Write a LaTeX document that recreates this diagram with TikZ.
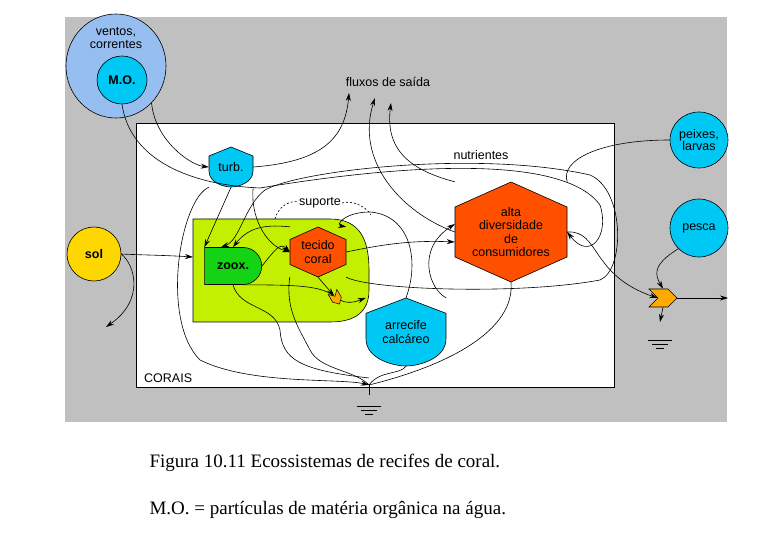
\documentclass[tikz,border=0pt]{standalone}
\usepackage{fontspec}
\setmainfont{Liberation Serif}
\setsansfont{Liberation Sans}
\usepackage{tikz}
\usetikzlibrary{shapes,arrows.meta,positioning,calc}

\definecolor{bgray}{RGB}{192,192,192}
\definecolor{cyanf}{RGB}{0,200,245}
\definecolor{ventof}{RGB}{150,190,240}
\definecolor{solf}{RGB}{255,215,0}
\definecolor{limef}{RGB}{195,240,0}
\definecolor{zooxf}{RGB}{20,210,20}
\definecolor{hexred}{RGB}{255,80,0}
\definecolor{gatef}{RGB}{255,170,0}

% hexagon: cx, cy, half width, half height
\newcommand{\hexa}[4]{\path[fill=hexred,draw=black,line width=0.6pt]
 ({#1-#3},{#2-#4/2}) -- (#1,{#2-#4}) -- ({#1+#3},{#2-#4/2}) -- ({#1+#3},{#2+#4/2})
 -- (#1,{#2+#4}) -- ({#1-#3},{#2+#4/2}) -- cycle;}
% shield (storage): cx, cy, half width, half height
\newcommand{\shld}[4]{\path[fill=cyanf,draw=black,line width=0.6pt]
 (#1,{#2-#4}) -- ({#1+#3},{#2-0.55*#4}) -- ({#1+#3},{#2+0.2*#4})
 .. controls ({#1+#3},{#2+0.8*#4}) and ({#1+0.3*#3},{#2+#4}) .. (#1,{#2+#4})
 .. controls ({#1-0.3*#3},{#2+#4}) and ({#1-#3},{#2+0.8*#4}) .. ({#1-#3},{#2+0.2*#4})
 -- ({#1-#3},{#2-0.55*#4}) -- cycle;}
% heat sink
\newcommand{\grnd}[2]{\draw[line width=0.6pt] ({#1-12},#2) -- ({#1+12},#2)
 ({#1-8},{#2+4}) -- ({#1+8},{#2+4}) ({#1-4},{#2+8}) -- ({#1+4},{#2+8});}

\tikzset{
  lbl/.style={font=\sffamily\fontsize{12.5}{14.5}\selectfont, align=center, inner sep=0pt},
  flow/.style={line width=0.6pt, -{Stealth[length=8pt,width=5pt]}},
  line/.style={line width=0.6pt},
  src/.style={ellipse, draw=black, line width=0.6pt, inner sep=0pt}
}

\begin{document}
\begin{tikzpicture}[x=1pt,y=-1pt]
\useasboundingbox (0,0) rectangle (780,540);
\fill[bgray] (65,17) rectangle (727,422);
\draw[fill=white,line width=0.6pt] (136,123) rectangle (614,387);
\node[lbl,anchor=west] (corais) at (144,378) {CORAIS};

% green region
\path[fill=limef,draw=black,line width=0.6pt] (193,219) -- (330,219)
  .. controls (360,219) and (369,240) .. (369,270) -- (369,290)
  .. controls (369,312) and (355,322) .. (330,322) -- (193,322) -- cycle;

% sources
\node[src,fill=ventof,minimum width=100,minimum height=104] (ventos) at (116,66) {};
\node[lbl] at (116,38) {ventos,\\[-2pt]correntes};
\node[src,fill=cyanf,minimum width=50,minimum height=48,lbl,font=\sffamily\bfseries\fontsize{12.5}{14}\selectfont] (mo) at (122,80) {M.O.};
\node[src,fill=solf,minimum width=54,minimum height=54,lbl,font=\sffamily\bfseries\fontsize{12.5}{14}\selectfont] (sol) at (94,254) {sol};
\node[src,fill=cyanf,minimum width=58,minimum height=56,lbl] (peixes) at (699,140) {peixes,\\[-2pt]larvas};
\node[src,fill=cyanf,minimum width=58,minimum height=58,lbl] (pesca) at (699,228) {pesca};

% storages
\shld{231}{167}{22}{20}
\node[lbl,minimum width=44,minimum height=40] (turb) at (231,167) {turb.};
\shld{406}{332}{40}{34}
\node[lbl,minimum width=80,minimum height=68] (arrecife) at (406,332) {arrecife\\[-1pt]calc\'areo};

% producer
\node[rounded rectangle,rounded rectangle left arc=none,fill=zooxf,draw=black,line width=0.6pt,
  minimum width=57,minimum height=37,lbl,font=\sffamily\bfseries\fontsize{12.5}{14}\selectfont] (zoox) at (233,266) {zoox.};

% consumers
\hexa{318}{252}{28}{25}
\node[lbl,minimum width=56,minimum height=50] (tecido) at (318,252) {tecido\\[-1pt]coral};
\hexa{511}{232}{56}{50}
\node[lbl,minimum width=112,minimum height=100] (alta) at (511,232) {alta\\[-1pt]diversidade\\[-1pt]de\\[-1pt]consumidores};

% gates
\node[signal,signal to=east,signal from=west,fill=gatef,draw=black,line width=0.6pt,
  minimum width=28,minimum height=18,inner sep=0pt] (gate) at (663,298) {};
\node[signal,signal to=east,signal from=west,fill=gatef,draw=black,line width=0.5pt,
  minimum width=14,minimum height=10,inner sep=0pt,rotate=-60] (wg) at (336,298) {};

% texts
\node[lbl] (fluxos) at (388,82) {fluxos de sa\'ida};
\node[lbl] (nutri) at (481,155) {nutrientes};
\node[lbl,fill=white,inner sep=1pt] (suporte) at (320,203) {suporte};

% sinks and free ends
\coordinate (gnd) at (369,385);
\coordinate (gndr) at (660,322);
\coordinate (out1) at (349,93);
\coordinate (out2) at (375,98);
\coordinate (out3) at (391,103);
\coordinate (refl) at (106,327);
\coordinate (exit) at (728,298);
\grnd{369}{406}
\grnd{660}{340}

% connectors
\draw[flow] (ventos.south east) .. controls (155,140) and (190,165) .. (turb.west);
\draw[flow] (turb.east) .. controls (320,162) and (345,140) .. (out1);
\draw[flow] (mo.south) .. controls (130,160) and (190,185) .. (260,188)
  .. controls (380,168) and (560,150) .. (600,205)
  .. controls (610,235) and (590,262) .. (alta.east);
\draw[flow] (alta.west) .. controls (400,212) and (355,160) .. (out2);
\draw[flow] (alta.north west) .. controls (410,170) and (385,150) .. (out3);
\draw[flow] (turb.south) -- (zoox.north west);
\draw[flow] (turb.south east) .. controls (250,215) and (265,245) .. (tecido.west);
\draw[flow] (sol.east) .. controls (140,255) and (160,255) .. (193,257);
\draw[flow] (sol.east) .. controls (135,265) and (145,300) .. (refl);
\draw[flow] (zoox.east) .. controls (275,250) and (280,242) .. (tecido.west);
\draw[flow] (tecido.north west) .. controls (270,225) and (250,225) .. (zoox.north);
\draw[flow] (tecido.east) .. controls (380,245) and (410,240) .. ([yshift=-10pt]alta.west);
\draw[flow] (tecido.south) -- (wg);
\draw[line] (zoox.south east) .. controls (290,285) and (320,285) .. (wg);
\draw[flow] (wg) .. controls (350,305) and (360,300) .. (arrecife.north west);
\draw[flow] (arrecife.north east) .. controls (430,290) and (415,250) .. ([yshift=8pt]alta.west);
\draw[flow] (arrecife.north) .. controls (420,260) and (410,215) .. (370,212)
  .. controls (345,212) and (335,225) .. (tecido.north east);
\draw[line,dash pattern=on 2pt off 2pt] (275,219) .. controls (280,200) and (300,200) .. (suporte.west);
\draw[line,dash pattern=on 2pt off 2pt] (suporte.east) .. controls (350,200) and (365,205) .. (371,215);
\draw[line] (peixes.west) .. controls (600,140) and (560,160) .. (alta.north east);
\draw[flow] (alta.east) .. controls (600,230) and (590,275) .. (gate.west);
\draw[flow] (pesca.south west) .. controls (652,265) and (655,275) .. (gate.north);
\draw[flow] (gate.east) -- (exit);
\draw[flow] (gate.south) -- (gndr);
% recycle loop
\draw[flow] (tecido.south east) .. controls (370,290) and (520,295) .. (600,280)
  .. controls (625,270) and (625,190) .. (590,175)
  .. controls (480,150) and (300,170) .. (265,190)
  .. controls (245,205) and (240,240) .. ([xshift=-12pt]zoox.north);
% heat sinks
\draw[flow] (turb.south west) .. controls (180,200) and (160,320) .. (200,360)
  .. controls (250,385) and (340,378) .. (gnd);
\draw[line] (zoox.south) .. controls (240,310) and (275,305) .. (280,330)
  .. controls (282,360) and (300,370) .. (369,378);
\draw[line] (tecido.south west) .. controls (285,310) and (300,330) .. (310,350)
  .. controls (320,370) and (355,370) .. (369,385);
\draw[line] (arrecife.south) .. controls (400,375) and (380,370) .. (369,385);
\draw[line] (alta.south) .. controls (515,330) and (450,365) .. (369,385);
\draw[line] (gnd) -- (369,395);

% caption
\node[anchor=west,font=\fontsize{19}{22}\selectfont] (cap1) at (146,463) {Figura 10.11 Ecossistemas de recifes de coral.};
\node[anchor=west,font=\fontsize{19}{22}\selectfont] (cap2) at (146,510) {M.O. = part\'iculas de mat\'eria org\^anica na \'agua.};
\end{tikzpicture}
\end{document}
